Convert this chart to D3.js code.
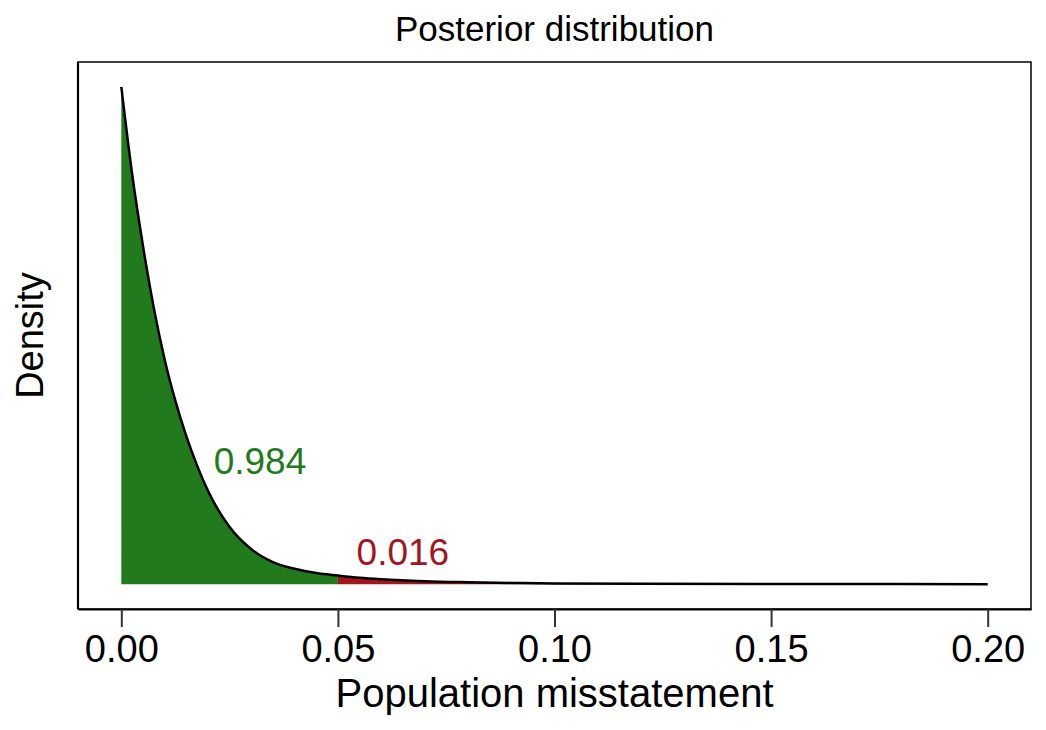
<!DOCTYPE html>
<html>
<head>
  <meta charset="utf-8" />
  <title>Posterior distribution</title>
  <style>
    body { margin: 0; background: white; }
    svg text { font-family: "Liberation Sans", Arial, sans-serif; }
  </style>
</head>
<body>
  <svg id="chart" width="1046" height="730"></svg>
  <script src="https://cdn.jsdelivr.net/npm/d3@7"></script>
  <script>
    // values
    var misstatement = [0, 0.0025, 0.005, 0.0075, 0.01, 0.0125, 0.015, 0.0175, 0.02, 0.025, 0.03, 0.035,
                        0.04, 0.045, 0.05, 0.055, 0.06, 0.07, 0.08, 0.09, 0.1, 0.12, 0.15, 0.2];
    var density = [81, 66.8, 55.1, 45.0, 36.6, 29.8, 24.1, 19.3, 15.2, 9.3, 5.7, 3.6,
                   2.5, 1.8, 1.4, 1.05, 0.81, 0.49, 0.32, 0.2, 0.12, 0.05, 0.016, 0];
    var xTicks = [0, 0.05, 0.10, 0.15, 0.20];
    var cutoff = 0.05;
    var labelText = ["0.984", "0.016"];
    var labelX = [0.032, 0.065];
    var labelY = [17.9, 3.1];
    var labelColor = ["#217a1c", "#a3161f"];

    var svg = d3.select('#chart');
    var pLeft = 78, pRight = 1031, pTop = 62, pBottom = 609;

    var x = d3.scaleLinear().domain([-0.01, 0.21]).range([pLeft, pRight]);
    var yMax = d3.max(density);
    var y = d3.scaleLinear().domain([-0.05 * yMax, 1.05 * yMax]).range([pBottom, pTop]);

    var pts = misstatement.map(function(d, i) { return { x: d, y: density[i] }; });
    var below = pts.filter(function(d) { return d.x <= cutoff; });
    var above = pts.filter(function(d) { return d.x >= cutoff; });

    var area = d3.area()
      .x(function(d) { return x(d.x); })
      .y0(y(0))
      .y1(function(d) { return y(d.y); })
      .curve(d3.curveMonotoneX);

    var line = d3.line()
      .x(function(d) { return x(d.x); })
      .y(function(d) { return y(d.y); })
      .curve(d3.curveMonotoneX);

    svg.append('path').attr('d', area(below)).attr('fill', '#217a1c');
    svg.append('path').attr('d', area(above)).attr('fill', '#a3161f');
    svg.append('path').attr('d', line(pts))
      .attr('fill', 'none').attr('stroke', 'black').attr('stroke-width', 2.5);

    // panel frame
    svg.append('rect')
      .attr('x', pLeft).attr('y', pTop)
      .attr('width', pRight - pLeft).attr('height', pBottom - pTop)
      .attr('fill', 'none').attr('stroke', 'black').attr('stroke-width', 1.5);

    var xAxis = svg.append('g')
      .attr('transform', 'translate(0,' + pBottom + ')')
      .call(d3.axisBottom(x).tickValues(xTicks).tickFormat(d3.format('.2f')).tickSize(18).tickSizeOuter(0).tickPadding(8));
    xAxis.select('.domain').attr('stroke', 'black').attr('stroke-width', 2.2);
    xAxis.selectAll('.tick line').attr('stroke', '#333').attr('stroke-width', 2);
    xAxis.selectAll('.tick text')
      .attr('font-size', 38).attr('fill', 'black')
      .style('font-family', '"Liberation Sans", Arial, sans-serif');

    svg.append('line')
      .attr('x1', pLeft).attr('x2', pLeft).attr('y1', pTop).attr('y2', pBottom)
      .attr('stroke', 'black').attr('stroke-width', 2.2);

    svg.selectAll('.lab')
      .data(labelText)
      .enter().append('text')
      .attr('class', 'lab')
      .attr('x', function(d, i) { return x(labelX[i]); })
      .attr('y', function(d, i) { return y(labelY[i]); })
      .attr('text-anchor', 'middle')
      .attr('font-size', 37)
      .attr('fill', function(d, i) { return labelColor[i]; })
      .text(function(d) { return d; });

    svg.append('text')
      .attr('x', (pLeft + pRight) / 2).attr('y', 41)
      .attr('text-anchor', 'middle').attr('font-size', 35)
      .text('Posterior distribution');

    svg.append('text')
      .attr('x', (pLeft + pRight) / 2).attr('y', 707)
      .attr('text-anchor', 'middle').attr('font-size', 40)
      .text('Population misstatement');

    svg.append('text')
      .attr('transform', 'translate(43,' + ((pTop + pBottom) / 2) + ') rotate(-90)')
      .attr('text-anchor', 'middle').attr('font-size', 38)
      .text('Density');
  </script>
</body>
</html>
